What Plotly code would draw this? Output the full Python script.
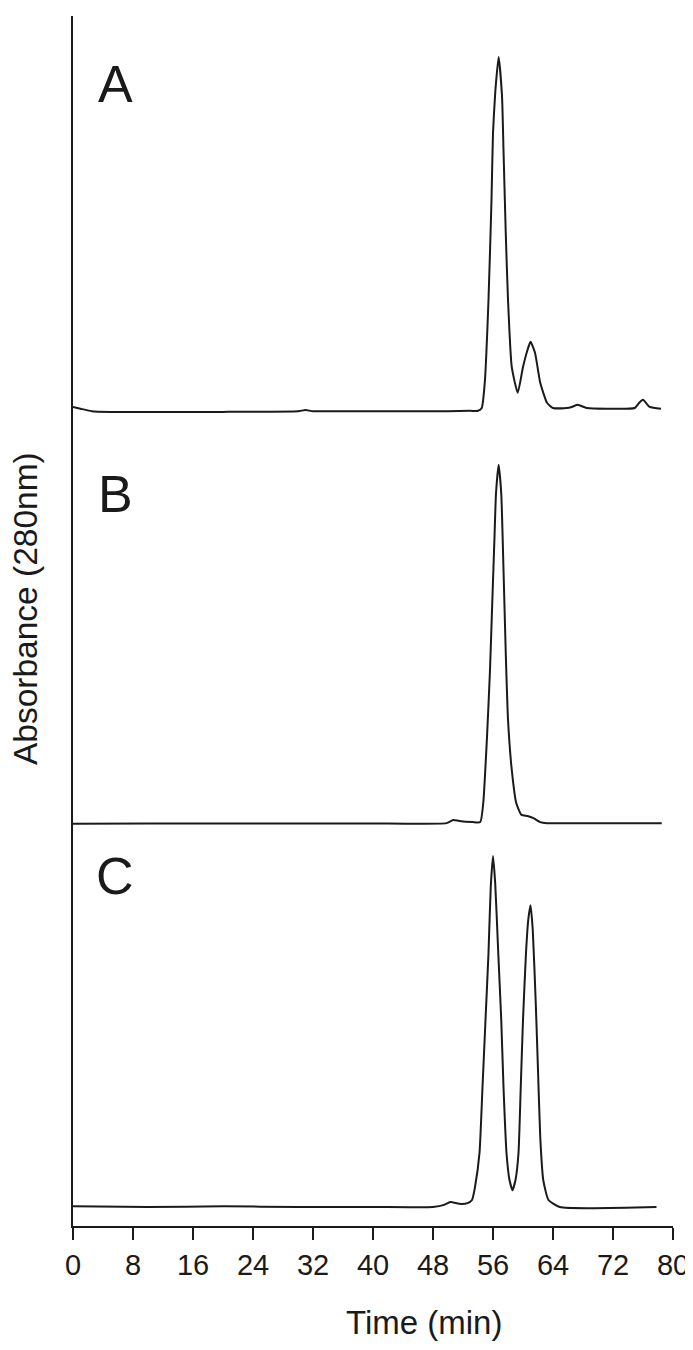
import plotly.graph_objects as go
from plotly.subplots import make_subplots

# Chromatograms, absorbance normalised to main peak
time_a = [0, 1, 2.5, 5, 10, 20, 30, 31, 32, 40, 50, 53, 54, 54.5, 54.9, 55.4, 55.8, 56.0,
          56.3, 56.75, 57.2, 57.4, 57.7, 58.0, 58.5, 59.3, 60.0, 60.6, 61.0, 61.6, 62.3,
          63.2, 64.0, 65.8, 66.5, 67.3, 68.5, 71.2, 74.9, 75.5, 76.0, 76.9, 78.4]
abs_a = [0.011, 0.006, -0.001, -0.003, -0.003, -0.003, -0.001, 0.002, -0.001, -0.001,
         -0.001, 0.0, 0.0, 0.008, 0.079, 0.314, 0.596, 0.785, 0.90, 1.0, 0.89, 0.737,
         0.503, 0.314, 0.124, 0.051, 0.124, 0.172, 0.195, 0.164, 0.079, 0.023, 0.008,
         0.008, 0.011, 0.017, 0.008, 0.006, 0.008, 0.023, 0.031, 0.011, 0.006]

time_b = [0, 10, 20, 30, 40, 49.8, 50.7, 51.5, 53.3, 54.3, 54.7, 55.2, 55.6, 55.9, 56.2,
          56.4, 56.75, 57.1, 57.4, 57.7, 58.0, 58.5, 59.1, 59.8, 60.6, 61.4, 62.3, 63.2,
          70.0, 78.5]
abs_b = [-0.001, 0.0, 0.0, 0.0, 0.0, 0.001, 0.010, 0.007, 0.004, 0.004, 0.057, 0.241,
         0.428, 0.615, 0.799, 0.92, 1.0, 0.92, 0.708, 0.476, 0.290, 0.150, 0.057,
         0.024, 0.021, 0.015, 0.004, 0.001, 0.001, 0.001]

time_c = [0, 10, 20, 30, 40, 48, 49.5, 50.3, 51.5, 52.6, 53.2, 53.6, 54.2, 54.6, 55.0,
          55.4, 55.7, 56.0, 56.3, 56.7, 57.1, 57.4, 57.8, 58.2, 58.6, 59.0, 59.4, 59.7,
          60.0, 60.4, 60.7, 61.0, 61.3, 61.7, 62.0, 62.3, 62.7, 63.4, 64.9, 77.8]
abs_c = [0.002, 0.0, 0.002, 0.0, 0.0, 0.0, 0.006, 0.014, 0.009, 0.011, 0.020, 0.057,
         0.154, 0.342, 0.533, 0.724, 0.912, 1.0, 0.92, 0.724, 0.533, 0.342, 0.154,
         0.077, 0.048, 0.077, 0.154, 0.342, 0.533, 0.724, 0.818, 0.860, 0.79, 0.581,
         0.390, 0.199, 0.077, 0.020, 0.0, 0.0]

panel_labels = ["A", "B", "C"]
x_ticks = list(range(0, 81, 8))

FONT = "Liberation Sans, Arial, sans-serif"
INK = "#1a1a1a"

fig = make_subplots(rows=3, cols=1, shared_xaxes=True, vertical_spacing=0)

for row, (t, a) in enumerate([(time_a, abs_a), (time_b, abs_b), (time_c, abs_c)], start=1):
    fig.add_trace(go.Scatter(x=t, y=a, mode="lines",
                             line=dict(color=INK, width=2, shape="spline", smoothing=0.5),
                             showlegend=False, hoverinfo="skip"), row=row, col=1)

# stacked panels; baselines sit near the bottom of each domain
fig.update_layout(
    yaxis=dict(domain=[0.658, 1.0], range=[-0.0537, 1.1158]),
    yaxis2=dict(domain=[0.319, 0.658], range=[-0.046, 1.0976]),
    yaxis3=dict(domain=[0.0, 0.319], range=[-0.0541, 1.0456]),
)
fig.update_yaxes(showline=True, linecolor=INK, linewidth=2, showticklabels=False, ticks="",
                 showgrid=False, zeroline=False)
fig.update_xaxes(range=[0, 80], showgrid=False, zeroline=False, automargin=False)
fig.update_xaxes(showline=False, showticklabels=False, ticks="", row=1, col=1)
fig.update_xaxes(showline=False, showticklabels=False, ticks="", row=2, col=1)
fig.update_xaxes(showline=True, linecolor=INK, linewidth=2, ticks="outside", ticklen=12, tickwidth=2,
                 tickcolor=INK, tickvals=x_ticks, tickfont=dict(family=FONT, size=29, color=INK),
                 row=3, col=1)

label_y = [0.9434, 0.6046, 0.2889]
for lab, ly in zip(panel_labels, label_y):
    fig.add_annotation(text=lab, xref="paper", yref="paper", x=0.07, y=ly, showarrow=False,
                       font=dict(family=FONT, size=52, color=INK), xanchor="center", yanchor="middle")

fig.add_annotation(text="Absorbance (280nm)", xref="paper", yref="paper", x=-0.078, y=0.51,
                   textangle=-90, showarrow=False, font=dict(family=FONT, size=33.5, color=INK),
                   xanchor="center", yanchor="middle")
fig.add_annotation(text="Time (min)", xref="paper", yref="paper", x=0.585, y=-0.0795,
                   showarrow=False, font=dict(family=FONT, size=33, color=INK),
                   xanchor="center", yanchor="middle", borderpad=0)

# page body adds an 8px margin, so the figure is sized to fit the window
fig.update_layout(width=685, height=1334, margin=dict(l=65, r=20, t=8, b=116),
                  plot_bgcolor="white", paper_bgcolor="white")

fig.write_html("out.html")
